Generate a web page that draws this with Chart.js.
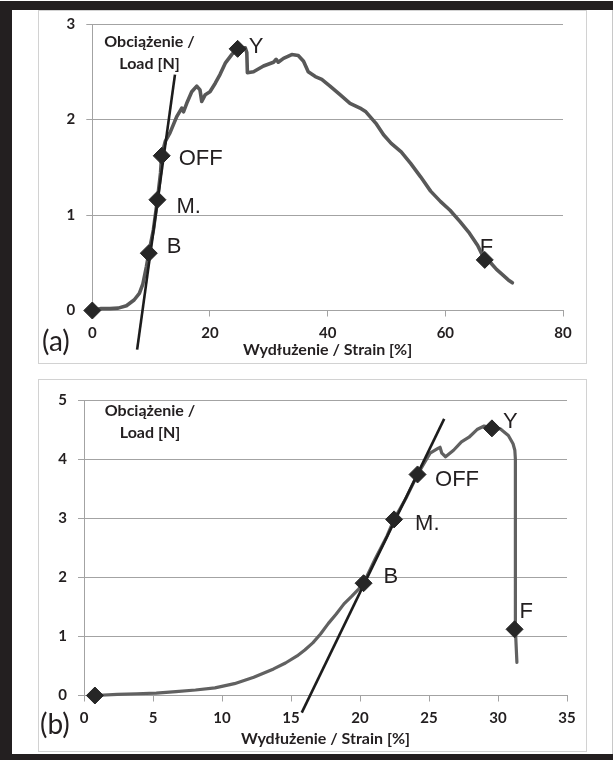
<!DOCTYPE html>
<html>
<head>
<meta charset="utf-8">
<script src="https://cdn.jsdelivr.net/npm/chart.js@4.4.1/dist/chart.umd.min.js"></script>
<style>
  html, body { margin: 0; padding: 0; background: #ffffff; }
  #page { position: relative; width: 613px; height: 760px; overflow: hidden; background: #ffffff; }
  .blk { position: absolute; background: #231f20; }
  .panel { position: absolute; box-sizing: border-box; border: 1px solid #d2d2d2; }
  canvas { position: absolute; left: 0; }
</style>
</head>
<body>
<div id="page">
  <div class="blk" style="left:0;top:1px;width:613px;height:9px;"></div>
  <div class="blk" style="left:0;top:1px;width:12px;height:759px;"></div>
  <div class="blk" style="left:0;top:754px;width:613px;height:6px;"></div>
  <div style="position:absolute;left:612px;top:10px;width:1px;height:744px;background:#c8c8c8;"></div>
  <div class="panel" style="left:38px;top:10px;width:549px;height:354px;"></div>
  <div class="panel" style="left:38px;top:379px;width:549px;height:373px;"></div>
  <canvas id="chartA" width="613" height="380" style="top:0;"></canvas>
  <canvas id="chartB" width="613" height="380" style="top:380px;"></canvas>
</div>
<script>
// ---------- Panel (a) ----------
const strainA = [0, 1.5, 3, 4.4, 5.8, 7.1, 8.0, 8.6, 9.2, 9.6, 10.4, 11.07, 11.6, 11.8, 12.4, 13.2, 14.35, 15.2, 15.5, 16.05, 16.9, 17.75, 18.3, 18.6, 19.2, 20.0, 20.9, 21.7, 22.6, 23.7, 24.7, 26.0, 26.26, 26.36, 27.4, 29.1, 30.8, 31.25, 31.6, 32.5, 33.9, 35.0, 35.9, 36.7, 37.9, 39.0, 40.4, 42.1, 43.8, 45.5, 46.5, 48.2, 49.5, 50.8, 52.5, 54.1, 55.8, 57.5, 59.2, 60.8, 62.5, 64.1, 65.5, 66.7, 67.7, 68.7, 69.8, 70.7, 71.4];
const loadA   = [0, 0.02, 0.02, 0.025, 0.05, 0.11, 0.18, 0.28, 0.46, 0.60, 0.85, 1.16, 1.44, 1.63, 1.77, 1.86, 2.03, 2.12, 2.08, 2.17, 2.29, 2.35, 2.31, 2.19, 2.26, 2.29, 2.38, 2.47, 2.59, 2.68, 2.74, 2.75, 2.70, 2.49, 2.50, 2.56, 2.60, 2.63, 2.60, 2.64, 2.68, 2.67, 2.61, 2.50, 2.45, 2.42, 2.35, 2.26, 2.17, 2.12, 2.08, 1.96, 1.84, 1.75, 1.66, 1.54, 1.40, 1.25, 1.14, 1.05, 0.93, 0.81, 0.68, 0.53, 0.50, 0.43, 0.37, 0.32, 0.29];
const tangentStrainA = [7.62, 14.05];
const tangentLoadA   = [-0.41, 2.47];
const pointStrainA = [0, 9.6, 11.07, 11.8, 24.7, 66.7];
const pointLoadA   = [0, 0.60, 1.16, 1.62, 2.74, 0.53];
const xTicksA = [0, 20, 40, 60, 80];
const yTicksA = [0, 1, 2, 3];

// ---------- Panel (b) ----------
const strainB = [0.79, 2.41, 3.8, 5.24, 6.66, 8.08, 9.49, 10.9, 12.3, 13.74, 14.6, 15.44, 16.0, 16.58, 17.14, 17.71, 18.28, 18.84, 19.41, 19.9, 20.26, 21.1, 21.96, 22.47, 23.38, 24.17, 24.65, 25.08, 25.65, 25.8, 25.93, 26.2, 26.78, 27.35, 27.9, 28.48, 29.0, 29.56, 30.18, 30.75, 31.09, 31.22, 31.26, 31.26, 31.26, 31.26, 31.37];
const loadB   = [0, 0.02, 0.03, 0.04, 0.066, 0.093, 0.13, 0.20, 0.31, 0.45, 0.55, 0.67, 0.77, 0.89, 1.04, 1.22, 1.38, 1.55, 1.68, 1.80, 1.90, 2.31, 2.70, 2.98, 3.36, 3.74, 3.93, 4.10, 4.18, 4.20, 4.10, 4.04, 4.15, 4.29, 4.37, 4.50, 4.56, 4.52, 4.51, 4.40, 4.26, 4.15, 4.00, 3.08, 1.98, 1.12, 0.56];
const tangentStrainB = [15.78, 26.1];
const tangentLoadB   = [-0.29, 4.68];
const pointStrainB = [0.79, 20.26, 22.47, 24.17, 29.56, 31.2];
const pointLoadB   = [0, 1.90, 2.98, 3.74, 4.52, 1.12];
const xTicksB = [0, 5, 10, 15, 20, 25, 30, 35];
const yTicksB = [0, 1, 2, 3, 4, 5];

// shared text
const pointNames = ['', 'B', 'M.', 'OFF', 'Y', 'F'];
const yTitleLines = ['Obciążenie /', 'Load [N]'];
const xTitle = 'Wydłużenie / Strain [%]';

const TEXT = '#231f20';
const GRID = '#a3a3a3';

function pts(xs, ys) { return xs.map((x, i) => ({ x: x, y: ys[i] })); }

const annotPlugin = {
  id: 'annot',
  beforeDatasetsDraw(chart) {
    const o = chart.options.plugins.annot;
    const ctx = chart.ctx;
    const xs = chart.scales.x, ys = chart.scales.y;
    ctx.save();
    ctx.fillStyle = TEXT;
    ctx.textBaseline = 'middle';
    ctx.font = '22px "Liberation Sans", Arial, sans-serif';
    ctx.textAlign = 'left';
    o.names.forEach((n, i) => {
      if (!n) return;
      const px = xs.getPixelForValue(o.px[i]) + o.offsets[i][0];
      const py = ys.getPixelForValue(o.py[i]) + o.offsets[i][1];
      ctx.fillText(n, px, py);
    });
    ctx.font = 'bold 16px Lato, sans-serif';
    ctx.textAlign = 'center';
    ctx.fillText(yTitleLines[0], o.titleX, o.titleY[0]);
    ctx.fillText(yTitleLines[1], o.titleX, o.titleY[1]);
    ctx.font = '28px Lato, sans-serif';
    ctx.textAlign = 'left';
    ctx.fillText(o.tag, o.tagX, o.tagY);
    ctx.restore();
  }
};

function makeChart(id, cfg) {
  return new Chart(document.getElementById(id), {
    type: 'scatter',
    data: {
      datasets: [
        {
          label: 'points',
          data: pts(cfg.pX, cfg.pY),
          showLine: false,
          pointStyle: 'rectRot',
          pointRadius: 8.5,
          pointBackgroundColor: '#262626',
          pointBorderColor: '#262626',
          pointBorderWidth: 1,
          clip: false
        },
        {
          label: 'tangent',
          data: pts(cfg.tX, cfg.tY),
          showLine: true,
          borderColor: '#1c1c1c',
          borderWidth: 2.6,
          pointRadius: 0,
          clip: false
        },
        {
          label: 'curve',
          data: pts(cfg.cX, cfg.cY),
          showLine: true,
          borderColor: cfg.curveColor,
          borderWidth: cfg.curveWidth,
          borderJoinStyle: 'round',
          borderCapStyle: 'round',
          pointRadius: 0,
          tension: 0,
          clip: false
        }
      ]
    },
    options: {
      responsive: false,
      devicePixelRatio: 1,
      animation: false,
      events: [],
      layout: { padding: { left: 0, right: cfg.padRight, top: cfg.padTop, bottom: 0 } },
      plugins: {
        legend: { display: false },
        tooltip: { enabled: false },
        annot: {
          names: pointNames, px: cfg.pX, py: cfg.pY, offsets: cfg.offsets,
          titleX: cfg.titleX, titleY: cfg.titleY,
          tag: cfg.tag, tagX: cfg.tagX, tagY: cfg.tagY
        }
      },
      scales: {
        x: {
          type: 'linear',
          min: cfg.xTicks[0], max: cfg.xTicks[cfg.xTicks.length - 1],
          afterBuildTicks: s => { s.ticks = cfg.xTicks.map(v => ({ value: v })); },
          afterFit: s => { s.height = cfg.xHeight; },
          grid: { drawOnChartArea: false, drawTicks: true, tickLength: 6, color: GRID, lineWidth: 1 },
          border: { display: true, color: GRID, width: 1 },
          ticks: { color: TEXT, font: { family: 'Lato', weight: 'bold', size: 15 }, padding: 7.5, maxRotation: 0 },
          title: {
            display: true, text: xTitle, color: TEXT,
            font: { family: 'Lato', weight: 'bold', size: 16 },
            padding: { top: 0, bottom: cfg.titlePadBottom }
          }
        },
        y: {
          type: 'linear',
          min: cfg.yTicks[0], max: cfg.yTicks[cfg.yTicks.length - 1],
          afterBuildTicks: s => { s.ticks = cfg.yTicks.map(v => ({ value: v })); },
          afterFit: s => { s.width = cfg.yWidth; },
          grid: { drawOnChartArea: true, drawTicks: true, tickLength: 6, color: GRID, lineWidth: 1 },
          border: { display: true, color: GRID, width: 1 },
          ticks: { color: TEXT, font: { family: 'Lato', weight: 'bold', size: 15 }, padding: 11 }
        }
      }
    },
    plugins: [annotPlugin]
  });
}

makeChart('chartA', {
  cX: strainA, cY: loadA, tX: tangentStrainA, tY: tangentLoadA, pX: pointStrainA, pY: pointLoadA,
  xTicks: xTicksA, yTicks: yTicksA,
  curveColor: '#585858', curveWidth: 3.6,
  padRight: 50, padTop: 24, xHeight: 69.5, yWidth: 92.3, titlePadBottom: 20.5,
  offsets: [[0, 0], [18, -6], [19, 7], [17, 3], [11, -2], [-5, -12]],
  titleX: 149.5, titleY: [42, 63.5],
  tag: '(a)', tagX: 42, tagY: 342
});

makeChart('chartB', {
  cX: strainB, cY: loadB, tX: tangentStrainB, tY: tangentLoadB, pX: pointStrainB, pY: pointLoadB,
  xTicks: xTicksB, yTicks: yTicksB,
  curveColor: '#616161', curveWidth: 3.2,
  padRight: 46, padTop: 12, xHeight: 64.5, yWidth: 84, titlePadBottom: 11.5,
  offsets: [[0, 0], [20, -6], [21, 5], [17.5, 5], [11, -6], [5, -17]],
  titleX: 150, titleY: [31, 53],
  tag: '(b)', tagX: 40, tagY: 345
});
</script>
</body>
</html>
